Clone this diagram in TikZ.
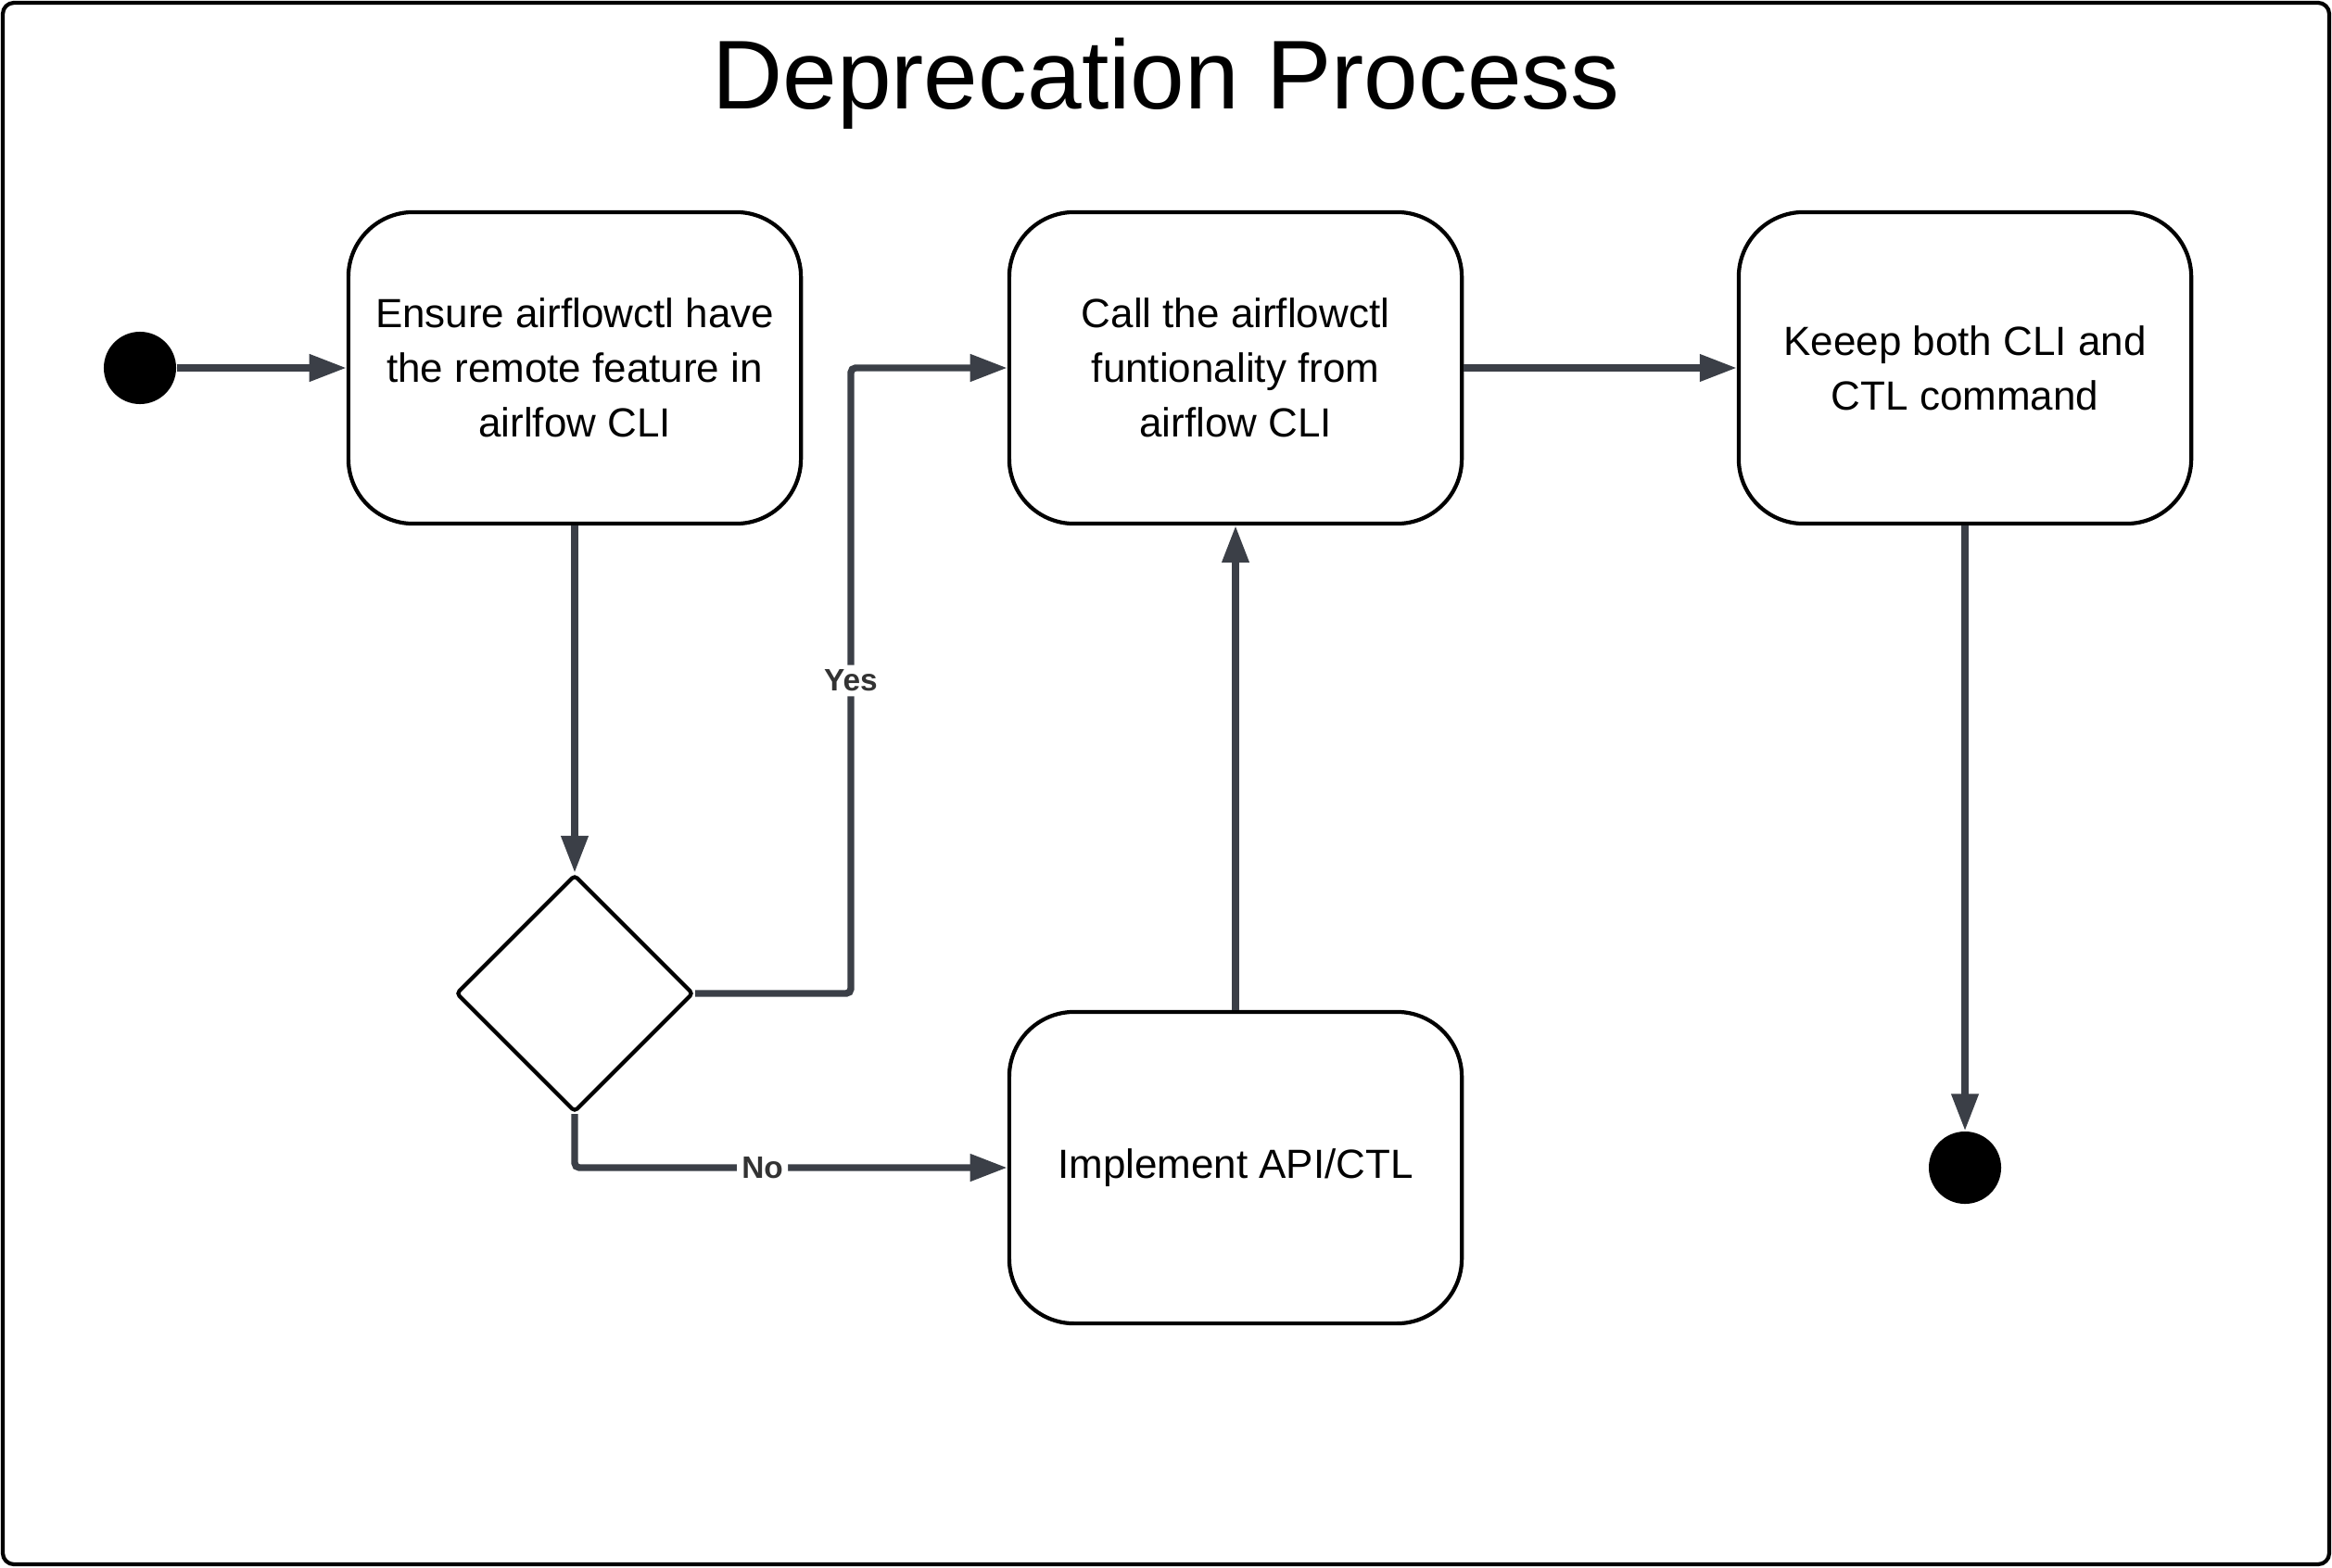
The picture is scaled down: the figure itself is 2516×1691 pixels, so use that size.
\documentclass[tikz,border=0pt]{standalone}
\usepackage{fontspec}
\setmainfont{Liberation Sans}
\usetikzlibrary{arrows.meta,shapes.geometric}
\definecolor{conncol}{RGB}{59,63,71}
\definecolor{labcol}{RGB}{51,51,51}
\begin{document}
\begin{tikzpicture}[x=0.01cm,y=-0.01cm,
  box/.style={draw=black, line width=1.2pt, rounded corners=0.7cm, minimum width=4.88cm, minimum height=3.36cm, align=center, font=\fontsize{12.5pt}{16.8pt}\selectfont, inner sep=0pt},
  conn/.style={draw=conncol, line width=2.1pt, -{Triangle[length=0.4cm,width=0.28cm]}, rounded corners=0.05cm},
  lab/.style={fill=white, font=\bfseries\fontsize{9.5pt}{10pt}\selectfont, text=labcol, inner sep=1.5pt},
  dot/.style={circle, fill=black, minimum size=0.78cm, inner sep=0pt}]
\useasboundingbox (0,0) rectangle (2516,1691);
\draw[line width=1.2pt, rounded corners=0.12cm] (3,3) rectangle (2513,1688);
\node[font=\fontsize{30pt}{36pt}\selectfont, anchor=base] (title) at (1258,117) {Deprecation Process};

\node[dot] (s) at (151,397) {};
\node[box] (b1) at (620,397) {Ensure airflowctl have\\the remote feature in\\airlfow CLI};
\node[box] (b2) at (1333,397) {Call the airflowctl\\funtionality from\\airflow CLI};
\node[box] (b3) at (2120,397) {Keeep both CLI and\\CTL command};
\node[box] (b4) at (1333,1260) {Implement API/CTL};
\node[diamond, draw=black, line width=1.2pt, minimum width=2.56cm, minimum height=2.56cm, inner sep=0pt, rounded corners=0.04cm] (d) at (620,1072) {};
\node[dot] (e) at (2120,1260) {};
\coordinate (yb) at (918,397);

\draw[conn] (s.east) -- (b1.west);
\draw[conn] (b1.south) -- (d.north);
\draw[conn] (d.east) -| node[lab,pos=0.75]{Yes} (yb) -- (b2.west);
\draw[conn] (d.south) |- node[lab,pos=0.717]{No} (b4.west);
\draw[conn] (b4.north) -- (b2.south);
\draw[conn] (b2.east) -- (b3.west);
\draw[conn] (b3.south) -- (e.north);
\end{tikzpicture}
\end{document}
